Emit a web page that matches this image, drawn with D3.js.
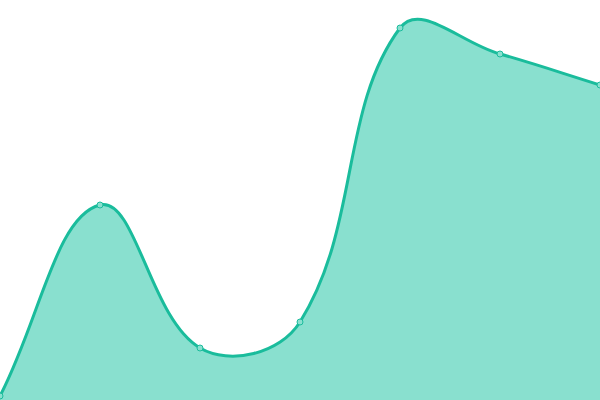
<!DOCTYPE html>
<html lang="en">
  <head>
    <meta charset="UTF-8" />
    <title>Area chart</title>
    <script src="https://d3js.org/d3.v7.min.js"></script>
    <style>
      html, body { margin: 0; padding: 0; background: #fff; }
      svg { display: block; }
    </style>
  </head>
  <body>
    <div id="chart"></div>
    <script>
      const xs = [0, 1, 2, 3, 4, 5, 6];
      const values = [4, 195, 52, 78, 372, 346, 315];

      const width = 600;
      const height = 400;

      const data = xs.map((x, i) => ({ x: x, y: values[i] }));

      const x = d3.scaleLinear().domain([0, 6]).range([0, width]);
      const y = d3.scaleLinear().domain([0, 400]).range([height, 0]);

      // spline with control points weighted by distance to neighbours
      function SplineCurve(context, tension) {
        this._context = context;
        this._t = tension;
      }
      SplineCurve.prototype = {
        areaStart() { this._line = 0; },
        areaEnd() { this._line = NaN; },
        lineStart() { this._xs = []; this._ys = []; },
        point(px, py) { this._xs.push(+px); this._ys.push(+py); },
        lineEnd() {
          const ctx = this._context, px = this._xs, py = this._ys, n = px.length;
          if (n) {
            this._line ? ctx.lineTo(px[0], py[0]) : ctx.moveTo(px[0], py[0]);
            const cp = [];
            for (let i = 0; i < n; i++) {
              const pi = Math.max(i - 1, 0), ni = Math.min(i + 1, n - 1);
              const d01 = Math.hypot(px[i] - px[pi], py[i] - py[pi]);
              const d12 = Math.hypot(px[ni] - px[i], py[ni] - py[i]);
              const sum = d01 + d12 || 1;
              const fa = this._t * d01 / sum, fb = this._t * d12 / sum;
              const dx = px[ni] - px[pi], dy = py[ni] - py[pi];
              cp.push({
                px: px[i] - fa * dx, py: py[i] - fa * dy,
                nx: px[i] + fb * dx, ny: py[i] + fb * dy,
              });
            }
            for (let i = 0; i < n - 1; i++) {
              ctx.bezierCurveTo(cp[i].nx, cp[i].ny, cp[i + 1].px, cp[i + 1].py, px[i + 1], py[i + 1]);
            }
          }
          if (this._line || (this._line !== 0 && n === 1)) ctx.closePath();
          this._line = 1 - this._line;
        },
      };
      const curve = (context) => new SplineCurve(context, 0.4);

      const svg = d3
        .select('#chart')
        .append('svg')
        .attr('width', width)
        .attr('height', height);

      const area = d3
        .area()
        .x((d) => x(d.x))
        .y0(height)
        .y1((d) => y(d.y))
        .curve(curve);

      const line = d3
        .line()
        .x((d) => x(d.x))
        .y((d) => y(d.y))
        .curve(curve);

      svg.append('path').datum(data).attr('d', area).attr('fill', '#89e0cf');

      svg
        .append('path')
        .datum(data)
        .attr('d', line)
        .attr('fill', 'none')
        .attr('stroke', '#1abc9c')
        .attr('stroke-width', 3);

      svg
        .selectAll('circle')
        .data(data)
        .enter()
        .append('circle')
        .attr('cx', (d) => x(d.x))
        .attr('cy', (d) => y(d.y))
        .attr('r', 3)
        .attr('fill', '#89e0cf')
        .attr('stroke', '#1abc9c')
        .attr('stroke-width', 1);
    </script>
  </body>
</html>
